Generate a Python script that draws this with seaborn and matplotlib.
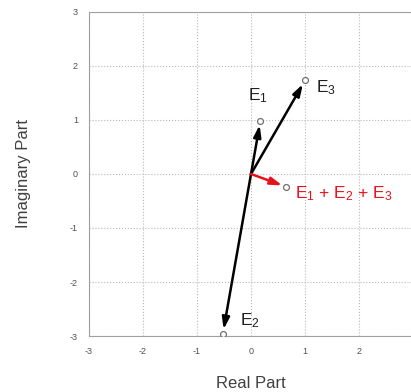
import numpy as np
import pandas as pd
import matplotlib
matplotlib.use("Agg")
import matplotlib.pyplot as plt
import seaborn as sns

# phasors (magnitude / angle in degrees)
names = ["E1", "E2", "E3"]
magnitudes = [1.0, 3.0, 2.0]
angles_deg = [80, -100, 60]
label_pos = [(0.13, 1.45), (-0.02, -2.72), (1.38, 1.6)]
label_text = ["E$_1$", "E$_2$", "E$_3$"]
sum_label = "E$_1$ + E$_2$ + E$_3$"
ticks = [-3, -2, -1, 0, 1, 2, 3]

sns.set_style("whitegrid", {"grid.linestyle": ":", "grid.color": "#b8b8b8",
                            "axes.edgecolor": "#a0a0a0"})
plt.rcParams["font.family"] = ["Liberation Sans", "DejaVu Sans"]
plt.rcParams["mathtext.fontset"] = "custom"
plt.rcParams["mathtext.rm"] = "Liberation Sans"
plt.rcParams["mathtext.it"] = "Liberation Sans:italic"
plt.rcParams["axes.unicode_minus"] = False

z = np.array(magnitudes) * np.exp(1j * np.deg2rad(angles_deg))
total = z.sum()
df = pd.DataFrame({"re": np.append(z.real, total.real),
                   "im": np.append(z.imag, total.imag),
                   "name": names + ["sum"]})

fig = plt.figure(figsize=(4.11, 3.92), dpi=100)
ax = fig.add_axes([89 / 411, (392 - 336) / 392, 324 / 411, 324 / 392])

for _, row in df.iterrows():
    col = "#e8101a" if row["name"] == "sum" else "black"
    ax.annotate("", xy=(row["re"], row["im"]), xytext=(0, 0),
                arrowprops=dict(arrowstyle="-|>,head_length=0.7,head_width=0.22",
                                color=col, lw=1.8, shrinkA=0, shrinkB=3))

sns.scatterplot(data=df, x="re", y="im", ax=ax, s=18, marker="o",
                facecolor="white", edgecolor="#707070", linewidth=0.9, zorder=5)

for (lx, ly), t in zip(label_pos, label_text):
    ax.text(lx, ly, t, fontsize=12.5, color="#202020", ha="center", va="center")
ax.text(0.82, -0.36, sum_label, fontsize=12.5, color="#e8101a", ha="left", va="center")

ax.set_xlim(-3, 3)
ax.set_ylim(-3, 3)
ax.set_xticks(ticks)
ax.set_yticks(ticks)
ax.tick_params(labelsize=6.5, labelcolor="#505050", length=0, pad=8)
ax.set_xlabel("Real Part", fontsize=12, color="#404040", labelpad=14)
ax.set_ylabel("Imaginary Part", fontsize=12, color="#404040", labelpad=28)
for s in ax.spines.values():
    s.set_linewidth(0.8)

fig.savefig("out.png", dpi=100)
